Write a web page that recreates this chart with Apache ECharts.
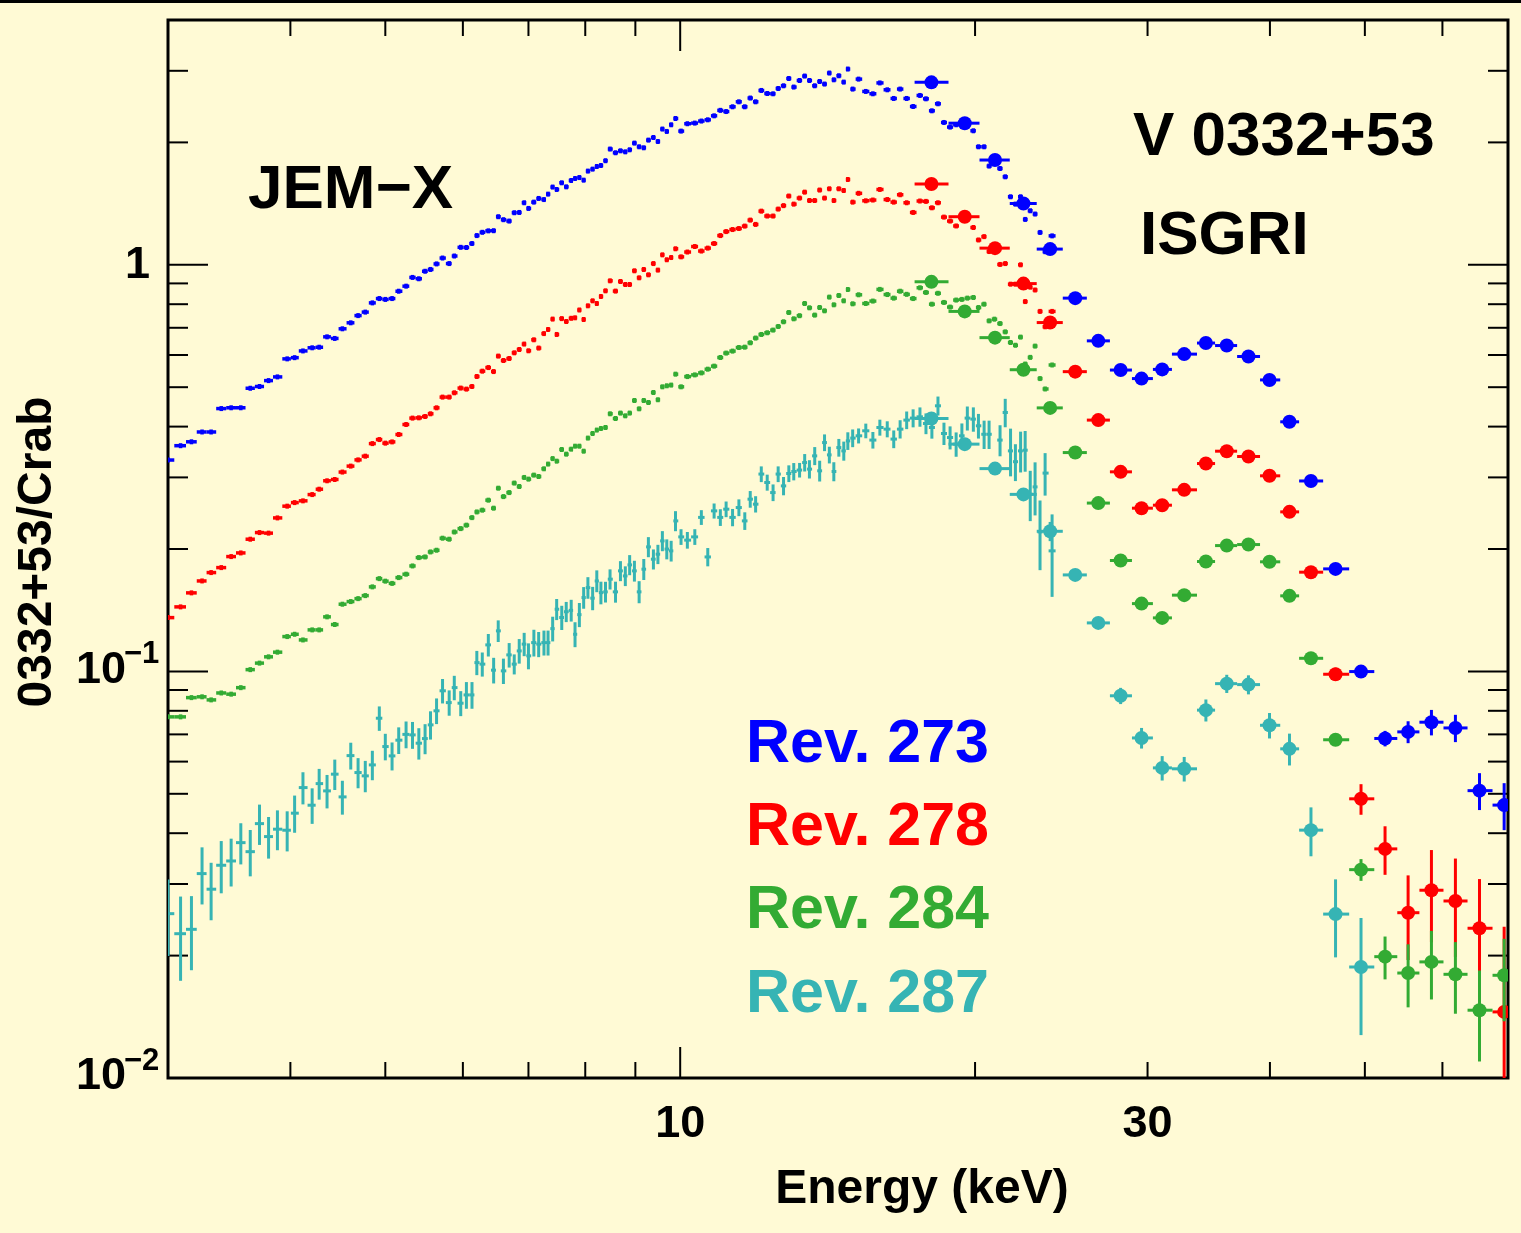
<!DOCTYPE html>
<html>
<head>
<meta charset="utf-8">
<script src="https://cdn.jsdelivr.net/npm/echarts@6/dist/echarts.min.js"></script>
<style>
  html, body { margin: 0; padding: 0; background: #fffad5; }
  #chart { width: 1521px; height: 1233px; }
</style>
</head>
<body>
<div id="chart"></div>
<script>
// V 0332+53 spectra divided by the Crab spectrum, four INTEGRAL revolutions.

// ---- axis ranges and ticks ----
const X_MIN = 3, X_MAX = 70;
const Y_MIN = 0.01, Y_MAX = 4;
const xMajorTickValues = [10];
const xMinorTickValues = [4, 5, 6, 7, 8, 9, 20, 30, 40, 50, 60];
const yMajorTickValues = [0.01, 0.1, 1];
const yMinorTickValues = [0.02, 0.03, 0.04, 0.05, 0.06, 0.07, 0.08, 0.09,
                          0.2, 0.3, 0.4, 0.5, 0.6, 0.7, 0.8, 0.9, 2, 3];
const xTickLabels = [{ value: 10, text: '10' }, { value: 30, text: '30' }];
const yTickLabels = [
  { value: 1, base: '1', exp: '' },
  { value: 0.1, base: '10', exp: '\u22121' },
  { value: 0.01, base: '10', exp: '\u22122' }
];

// ---- JEM-X channel energies (keV), shared by all revolutions ----
const jemxEnergy = [
  3.00, 3.09, 3.17, 3.25, 3.32, 3.40, 3.48, 3.56, 3.64, 3.72,
  3.80, 3.88, 3.97, 4.04, 4.12, 4.21, 4.28, 4.36, 4.44, 4.52,
  4.61, 4.69, 4.77, 4.85, 4.93, 5.00, 5.08, 5.16, 5.25, 5.33,
  5.41, 5.49, 5.56, 5.64, 5.72, 5.81, 5.88, 5.97, 6.05, 6.13,
  6.20, 6.28, 6.37, 6.45, 6.52, 6.60, 6.69, 6.77, 6.85, 6.93,
  7.00, 7.09, 7.17, 7.26, 7.33, 7.41, 7.48, 7.57, 7.65, 7.74,
  7.81, 7.89, 7.97, 8.05, 8.14, 8.22, 8.30, 8.39, 8.48, 8.59,
  8.69, 8.79, 8.88, 8.98, 9.08, 9.18, 9.28, 9.39, 9.49, 9.59,
  9.69, 9.79, 9.89, 10.02, 10.17, 10.35, 10.51, 10.67, 10.83, 10.99,
  11.14, 11.31, 11.48, 11.64, 11.79, 11.94, 12.10, 12.27, 12.44, 12.59,
  12.75, 12.91, 13.06, 13.24, 13.40, 13.55, 13.72, 13.88, 14.04, 14.20,
  14.35, 14.52, 14.69, 14.83, 15.00, 15.21, 15.47, 15.73, 15.99, 16.27,
  16.52, 16.77, 17.03, 17.29, 17.57, 17.82, 18.07, 18.33, 18.59, 18.86,
  19.13, 19.39, 19.64, 19.92, 20.16, 20.43, 20.67, 20.93, 21.21, 21.47,
  21.74, 21.99, 22.26, 22.50, 22.77, 23.03, 23.30, 23.58, 23.97
];

// JEM-X ratio to Crab, Rev. 273
const jemx273 = [
  0.331, 0.359, 0.367, 0.388, 0.388, 0.443, 0.445, 0.445, 0.497, 0.502,
  0.519, 0.530, 0.587, 0.591, 0.614, 0.625, 0.627, 0.665, 0.659, 0.696,
  0.720, 0.750, 0.765, 0.806, 0.826, 0.822, 0.826, 0.861, 0.886, 0.931,
  0.924, 0.964, 0.974, 1.005, 1.039, 1.007, 1.051, 1.104, 1.103, 1.128,
  1.180, 1.202, 1.212, 1.213, 1.313, 1.291, 1.281, 1.343, 1.345, 1.421,
  1.376, 1.426, 1.456, 1.447, 1.492, 1.553, 1.532, 1.591, 1.555, 1.612,
  1.630, 1.639, 1.615, 1.700, 1.719, 1.745, 1.755, 1.803, 1.926, 1.886,
  1.907, 1.896, 1.918, 1.992, 1.951, 1.940, 2.026, 2.056, 2.010, 2.157,
  2.128, 2.210, 2.290, 2.132, 2.223, 2.231, 2.257, 2.273, 2.325, 2.398,
  2.382, 2.447, 2.517, 2.447, 2.571, 2.517, 2.684, 2.638, 2.634, 2.714,
  2.756, 2.872, 2.736, 2.840, 2.912, 2.840, 2.756, 2.824, 2.783, 2.962,
  2.851, 2.917, 2.814, 3.030, 2.705, 2.862, 2.669, 2.634, 2.801, 2.694,
  2.565, 2.705, 2.565, 2.451, 2.609, 2.560, 2.392, 2.489, 2.239, 2.181,
  2.210, null, null, 2.136, 1.951, 1.951, 1.749, null, 1.725, 1.646,
  1.470, 1.410, 1.470, 1.293, 1.358, 1.333, 1.201, 1.077, 1.178
];

// JEM-X ratio to Crab, Rev. 278
const jemx278 = [
  0.1356, 0.1441, 0.1560, 0.1669, 0.1750, 0.1800, 0.1916, 0.1956, 0.2114, 0.2195,
  0.2188, 0.2385, 0.2549, 0.2601, 0.2627, 0.2722, 0.2806, 0.2943, 0.2965, 0.3092,
  0.3198, 0.3313, 0.3383, 0.3633, 0.3717, 0.3642, 0.3668, 0.3825, 0.4048, 0.4197,
  0.4204, 0.4236, 0.4301, 0.4449, 0.4727, 0.4727, 0.4844, 0.4975, 0.4946, 0.5020,
  0.5313, 0.5475, 0.5588, 0.5463, 0.5963, 0.5816, 0.5882, 0.6075, 0.6190, 0.6383,
  0.6145, 0.6540, 0.6240, 0.6774, 0.6933, 0.7353, 0.6740, 0.7373, 0.7253, 0.7386,
  0.7407, 0.7742, 0.7336, 0.7928, 0.8155, 0.8032, 0.8357, 0.8630, 0.9133, 0.8616,
  0.9097, 0.8944, 0.8944, 0.9666, 0.929, 0.9737, 0.9449, 1.007, 0.9704, 1.058,
  1.029, 1.042, 1.095, 1.046, 1.075, 1.109, 1.081, 1.099, 1.128, 1.180,
  1.207, 1.221, 1.228, 1.245, 1.288, 1.257, 1.355, 1.318, 1.318, 1.371,
  1.398, 1.476, 1.410, 1.459, 1.509, 1.439, 1.439, 1.527, 1.459, 1.538,
  1.439, 1.538, 1.523, 1.621, 1.426, 1.499, 1.437, 1.443, 1.532, 1.447,
  1.426, 1.487, 1.421, 1.345, 1.435, 1.432, 1.381, 1.421, 1.310, 1.281,
  1.246, null, null, 1.235, 1.151, 1.173, 1.078, null, 1.002, 1.007,
  0.896, 0.896, 1.000, 0.812, 0.881, 0.867, 0.768, 0.704, 0.768
];

// JEM-X ratio to Crab, Rev. 284
const jemx284 = [
  0.0773, 0.0773, 0.0862, 0.0866, 0.0851, 0.0885, 0.0879, 0.0912, 0.1010, 0.1048,
  0.1086, 0.1115, 0.1218, 0.1234, 0.1195, 0.1265, 0.1265, 0.1362, 0.1304, 0.1463,
  0.1485, 0.1510, 0.1536, 0.1614, 0.1691, 0.1667, 0.1646, 0.1701, 0.1734, 0.1817,
  0.1905, 0.1912, 0.1967, 0.1986, 0.2126, 0.2114, 0.2202, 0.2245, 0.2289, 0.2389,
  0.2467, 0.2492, 0.2637, 0.2520, 0.2822, 0.2691, 0.2753, 0.2905, 0.2849, 0.2999,
  0.2971, 0.3039, 0.3015, 0.3150, 0.3235, 0.3337, 0.3289, 0.3513, 0.3422, 0.3520,
  0.3580, 0.3580, 0.3480, 0.3748, 0.3847, 0.3922, 0.3957, 0.3980, 0.4301, 0.4188,
  0.4318, 0.4252, 0.4318, 0.4637, 0.4424, 0.4637, 0.4585, 0.4852, 0.4657, 0.5011,
  0.5040, 0.5060, 0.5383, 0.5011, 0.5310, 0.5361, 0.5422, 0.5537, 0.5633, 0.5915,
  0.6065, 0.6134, 0.6260, 0.6272, 0.6430, 0.6604, 0.6740, 0.6805, 0.6909, 0.7052,
  0.7242, 0.7633, 0.7365, 0.7496, 0.8032, 0.7838, 0.7521, 0.7852, 0.7706, 0.8328,
  0.7973, 0.8404, 0.8155, 0.8694, 0.8018, 0.8438, 0.8032, 0.8143, 0.8700, 0.845,
  0.828, 0.861, 0.846, 0.826, 0.878, 0.855, 0.800, 0.851, 0.808, 0.787,
  0.819, 0.822, 0.828, 0.831, 0.785, 0.800, 0.728, 0.735, 0.717, 0.684,
  0.644, 0.634, 0.664, 0.570, 0.592, 0.631, 0.525, 0.495, 0.567
];

// JEM-X ratio to Crab, Rev. 287, with 1-sigma errors
const jemx287 = [
  0.02536, 0.02264, 0.02321, 0.03182, 0.02913, 0.03336, 0.03418, 0.03792, 0.03603, 0.04223,
  0.03924, 0.04092, 0.04068, 0.04480, 0.05179, 0.04687, 0.05297, 0.05083, 0.05588, 0.04913,
  0.06207, 0.05639, 0.05534, 0.05889, 0.07671, 0.06533, 0.06197, 0.06774, 0.0700, 0.0698,
  0.06659, 0.06836, 0.07387, 0.0800, 0.0896, 0.0838, 0.09123, 0.08352, 0.08753, 0.08753,
  0.1051, 0.1042, 0.1162, 0.1007, 0.1258, 0.1003, 0.1098, 0.1042, 0.1123, 0.1167,
  0.1092, 0.1177, 0.1167, 0.1177, 0.1177, 0.1274, 0.1422, 0.1357, 0.1402, 0.1413,
  0.1234, 0.1379, 0.1519, 0.1607, 0.1514, 0.1669, 0.1562, 0.1569, 0.1686, 0.1569,
  0.1767, 0.1717, 0.1828, 0.1767, 0.1569, 0.1784, 0.2024, 0.1888, 0.1942, 0.2094,
  0.1999, 0.1979, 0.2345, 0.2142, 0.2103, 0.2142, 0.2392, 0.1912, 0.2482, 0.2392,
  0.2506, 0.2392, 0.2529, 0.2345, 0.2652, 0.2578, 0.3057, 0.2915, 0.2753, 0.3057,
  0.2859, 0.3067, 0.3102, 0.3127, 0.3263, 0.3144, 0.3389, 0.3114, 0.3654, 0.3408,
  0.3102, 0.3552, 0.3486, 0.3689, 0.3748, 0.3797, 0.3906, 0.3706, 0.3980, 0.3943,
  0.3727, 0.3943, 0.4150, 0.4197, 0.4228, 0.4071, 0.3980, 0.4500, 0.3847, 0.3760,
  0.3621, 0.3797, 0.4197, 0.4173, 0.4018, 0.3830, 0.3830, null, 0.3706, 0.4333,
  0.3486, 0.3279, 0.3486, 0.3500, 0.2728, 0.2843, 0.2203, 0.3074, 0.1979
];
const jemx287Err = [
  0.0054, 0.0053, 0.0048, 0.0051, 0.0047, 0.0049, 0.0046, 0.0044, 0.0047, 0.0048,
  0.0046, 0.0046, 0.0046, 0.0047, 0.0047, 0.0047, 0.0046, 0.0048, 0.0048, 0.0047,
  0.0047, 0.0048, 0.0049, 0.0049, 0.0053, 0.0049, 0.0049, 0.0051, 0.0053, 0.0053,
  0.0059, 0.0058, 0.0059, 0.0058, 0.0062, 0.0060, 0.0063, 0.0059, 0.0066, 0.0066,
  0.0072, 0.0071, 0.0074, 0.0073, 0.0077, 0.0072, 0.0076, 0.0059, 0.0078, 0.0077,
  0.0080, 0.0089, 0.0083, 0.0083, 0.0083, 0.0089, 0.0085, 0.0093, 0.0080, 0.0087,
  0.0087, 0.0094, 0.0093, 0.0098, 0.0100, 0.0103, 0.0100, 0.0092, 0.0096, 0.0093,
  0.0100, 0.0096, 0.0104, 0.0104, 0.0098, 0.0106, 0.0115, 0.0107, 0.0106, 0.0119,
  0.0113, 0.0116, 0.0133, 0.0095, 0.0099, 0.0095, 0.0100, 0.0099, 0.0106, 0.0113,
  0.0111, 0.0117, 0.0120, 0.0117, 0.0125, 0.0119, 0.0136, 0.0132, 0.0130, 0.0136,
  0.0148, 0.0145, 0.0152, 0.0129, 0.0161, 0.0163, 0.0173, 0.0183, 0.0173, 0.0161,
  0.0167, 0.0178, 0.0188, 0.0184, 0.0188, 0.0161, 0.0162, 0.0174, 0.0180, 0.0179,
  0.0187, 0.0204, 0.0207, 0.0214, 0.0231, 0.0239, 0.0244, 0.0242, 0.0243, 0.0245,
  0.0249, 0.0275, 0.0285, 0.0287, 0.0280, 0.0307, 0.0307, null, 0.0325, 0.0348,
  0.0468, 0.0341, 0.0401, 0.0402, 0.0386, 0.0424, 0.0429, 0.0368, 0.0454
];

// ---- ISGRI energy bins (keV) ----
const isgriEdges = [17.35, 18.79, 20.21, 21.70, 23.12, 24.58, 26.01, 27.46, 28.92, 30.38,
                    31.77, 33.70, 35.16, 37.03, 39.08, 40.98, 42.84, 45.33, 48.19, 51.12,
                    53.96, 56.84, 60.15, 63.65, 67.50, 71.43];
const isgriEnergy = [18.05, 19.52, 20.96, 22.41, 23.86, 25.31, 26.72, 28.16, 29.58, 31.05,
                     32.70, 34.41, 36.14, 38.03, 39.96, 41.88, 44.05, 46.67, 49.55, 52.43,
                     55.35, 58.47, 61.86, 65.46, 69.37];

const isgri273 = [2.81, 2.23, 1.81, 1.415, 1.093, 0.828, 0.650, 0.551, 0.525, 0.553,
                  0.603, 0.642, 0.633, 0.595, 0.521, 0.411, 0.294, 0.1787, 0.0999, 0.0684,
                  0.0710, 0.0750, 0.0726, 0.0509, 0.0469];
const isgri273Err = [0.012, 0.009, 0.007, 0.006, 0.005, 0.004, 0.003, 0.003, 0.003, 0.003,
                     0.003, 0.003, 0.003, 0.003, 0.003, 0.003, 0.002, 0.0015, 0.0012, 0.003,
                     0.0044, 0.0054, 0.0056, 0.0053, 0.0062];

const isgri278 = [1.58, 1.313, 1.099, 0.899, 0.721, 0.546, 0.415, 0.3096, 0.252, 0.2563,
                  0.2796, 0.3245, 0.348, 0.3377, 0.3027, 0.2468, 0.1754, 0.0984, 0.0486, 0.0366,
                  0.0255, 0.02896, 0.02725, 0.02335, 0.01454];
const isgri278Err = [0.008, 0.006, 0.005, 0.004, 0.004, 0.003, 0.003, 0.003, 0.003, 0.003,
                     0.003, 0.003, 0.003, 0.003, 0.003, 0.003, 0.002, 0.0037, 0.0042, 0.005,
                     0.006, 0.0074, 0.0074, 0.0075, 0.009];

const isgri284 = [0.908, 0.768, 0.662, 0.552, 0.4447, 0.3453, 0.2594, 0.1874, 0.1468, 0.1354,
                  0.154, 0.1863, 0.2039, 0.2051, 0.186, 0.1534, 0.1077, 0.0679, 0.03254, 0.01988,
                  0.01812, 0.0193, 0.01799, 0.01468, 0.01789];
const isgri284Err = [0.005, 0.004, 0.003, 0.003, 0.003, 0.002, 0.002, 0.002, 0.002, 0.002,
                     0.002, 0.002, 0.002, 0.002, 0.002, 0.002, 0.0015, 0.0012, 0.002, 0.0024,
                     0.0032, 0.0037, 0.0036, 0.0037, 0.0041];

const isgri287 = [0.4187, 0.3622, 0.3153, 0.2725, 0.2211, 0.1727, 0.1316, 0.0871, 0.0686, 0.0579,
                  0.0576, 0.0803, 0.0933, 0.0928, 0.0737, 0.0645, 0.0407, 0.0253, 0.01875, null,
                  null, null, null, null, null];
const isgri287Err = [0.005, 0.004, 0.004, 0.004, 0.012, 0.003, 0.003, 0.004, 0.004, 0.004,
                     0.004, 0.005, 0.0048, 0.005, 0.0053, 0.0058, 0.0056, 0.0055, 0.006, null,
                     null, null, null, null, null];

const revLabels = ['Rev. 273', 'Rev. 278', 'Rev. 284', 'Rev. 287'];
const revColors = ['#0000ff', '#ff0000', '#33ab33', '#36b4b4'];

// ---- build rows: [energy, ratio, error, binLow, binHigh] ----
const jemxLo = [], jemxHi = [];
jemxEnergy.forEach((e, i) => {
  const n = jemxEnergy.length;
  const prev = i > 0 ? jemxEnergy[i - 1] : e * e / jemxEnergy[i + 1];
  const next = i < n - 1 ? jemxEnergy[i + 1] : e * e / jemxEnergy[i - 1];
  jemxLo.push(Math.sqrt(prev * e));
  jemxHi.push(Math.sqrt(e * next));
});

function jemxRows(values, errs) {
  const rows = [];
  values.forEach((v, i) => {
    if (v == null) return;
    rows.push([jemxEnergy[i], v, errs ? errs[i] : 0, jemxLo[i], jemxHi[i]]);
  });
  return rows;
}
function isgriRows(values, errs) {
  const rows = [];
  values.forEach((v, i) => {
    if (v == null) return;
    rows.push([isgriEnergy[i], v, errs[i], isgriEdges[i], isgriEdges[i + 1]]);
  });
  return rows;
}

function errorBarRenderer(color, lineWidth, tickHalf, dotRadius) {
  return function (params, api) {
    const e = api.value(0), v = api.value(1), err = api.value(2);
    const lo = api.value(3), hi = api.value(4);
    const c = api.coord([e, v]);
    const pl = api.coord([lo, v]);
    const ph = api.coord([hi, v]);
    let yTop, yBot;
    if (err > 0) {
      yTop = api.coord([e, v + err])[1];
      yBot = api.coord([e, Math.max(v - err, 1e-4)])[1];
    } else {
      yTop = c[1] - tickHalf;
      yBot = c[1] + tickHalf;
    }
    const style = { stroke: color, lineWidth: lineWidth };
    const children = [
      { type: 'line', shape: { x1: pl[0], y1: c[1], x2: ph[0], y2: c[1] }, style: style },
      { type: 'line', shape: { x1: c[0], y1: yTop, x2: c[0], y2: yBot }, style: style }
    ];
    if (dotRadius) {
      children.push({ type: 'circle', shape: { cx: c[0], cy: c[1], r: dotRadius }, style: { fill: color } });
    }
    return { type: 'group', children: children };
  };
}

function dataSeries(rows, color, lineWidth, tickHalf, dotRadius, z) {
  return {
    type: 'custom',
    clip: true,
    z: z,
    data: rows,
    encode: { x: 0, y: 1 },
    renderItem: errorBarRenderer(color, lineWidth, tickHalf, dotRadius)
  };
}

// ---- frame ticks and tick labels, placed through the axes ----
const FONT = '"Liberation Sans", Arial, Helvetica, sans-serif';

function xTickSeries(values, len) {
  return {
    type: 'custom', z: 1, silent: true,
    data: values.map(v => [v, Y_MIN]),
    encode: { x: 0, y: 1 },
    renderItem: function (params, api) {
      const v = api.value(0);
      const b = api.coord([v, Y_MIN]);
      const t = api.coord([v, Y_MAX]);
      const st = { stroke: '#000', lineWidth: 2 };
      return { type: 'group', children: [
        { type: 'line', shape: { x1: b[0], y1: b[1], x2: b[0], y2: b[1] - len }, style: st },
        { type: 'line', shape: { x1: t[0], y1: t[1], x2: t[0], y2: t[1] + len }, style: st }
      ] };
    }
  };
}
function yTickSeries(values, len) {
  return {
    type: 'custom', z: 1, silent: true,
    data: values.map(v => [X_MIN, v]),
    encode: { x: 0, y: 1 },
    renderItem: function (params, api) {
      const v = api.value(1);
      const l = api.coord([X_MIN, v]);
      const r = api.coord([X_MAX, v]);
      const st = { stroke: '#000', lineWidth: 2 };
      return { type: 'group', children: [
        { type: 'line', shape: { x1: l[0], y1: l[1], x2: l[0] + len, y2: l[1] }, style: st },
        { type: 'line', shape: { x1: r[0], y1: r[1], x2: r[0] - len, y2: r[1] }, style: st }
      ] };
    }
  };
}

const xLabelSeries = {
  type: 'custom', z: 1, silent: true,
  data: xTickLabels.map(t => [t.value, Y_MIN]),
  encode: { x: 0, y: 1 },
  renderItem: function (params, api) {
    const p = api.coord([api.value(0), Y_MIN]);
    return {
      type: 'text',
      style: { x: p[0], y: p[1] + 47, text: xTickLabels[params.dataIndex].text,
               font: 'bold 45px ' + FONT, fill: '#000', align: 'center', verticalAlign: 'middle' }
    };
  }
};

const yLabelSeries = {
  type: 'custom', z: 1, silent: true,
  data: yTickLabels.map(t => [X_MIN, t.value]),
  encode: { x: 0, y: 1 },
  renderItem: function (params, api) {
    const p = api.coord([X_MIN, api.value(1)]);
    const lab = yTickLabels[params.dataIndex];
    if (!lab.exp) {
      return {
        type: 'text',
        style: { x: p[0] - 18, y: p[1] + 1, text: lab.base, font: 'bold 45px ' + FONT,
                 fill: '#000', align: 'right', verticalAlign: 'middle' }
      };
    }
    return { type: 'group', children: [
      { type: 'text', style: { x: p[0] - 42, y: p[1] - 1, text: lab.base, font: 'bold 45px ' + FONT,
                               fill: '#000', align: 'right', verticalAlign: 'middle' } },
      { type: 'text', style: { x: p[0] - 44, y: p[1] - 17, text: lab.exp, font: 'bold 31px ' + FONT,
                               fill: '#000', align: 'left', verticalAlign: 'middle' } }
    ] };
  }
};

const series = [
  xTickSeries(xMajorTickValues, 31),
  xTickSeries(xMinorTickValues, 16),
  yTickSeries(yMajorTickValues, 40),
  yTickSeries(yMinorTickValues, 20),
  xLabelSeries,
  yLabelSeries,
  dataSeries(jemxRows(jemx273), revColors[0], 3.5, 2.5, 0, 3),
  dataSeries(jemxRows(jemx278), revColors[1], 3.5, 2.5, 0, 3),
  dataSeries(jemxRows(jemx284), revColors[2], 3.5, 2.5, 0, 3),
  dataSeries(jemxRows(jemx287, jemx287Err), revColors[3], 3, 2.5, 0, 3),
  dataSeries(isgriRows(isgri273, isgri273Err), revColors[0], 3, 0, 7, 4),
  dataSeries(isgriRows(isgri278, isgri278Err), revColors[1], 3, 0, 7, 4),
  dataSeries(isgriRows(isgri284, isgri284Err), revColors[2], 3, 0, 7, 4),
  dataSeries(isgriRows(isgri287, isgri287Err), revColors[3], 3, 0, 7, 4)
];

const textStyle = (size, color) => ({ font: 'bold ' + size + 'px ' + FONT, fill: color });

const graphic = [
  { type: 'rect', left: 0, top: 0, shape: { width: 1521, height: 3 }, style: { fill: '#000' }, z: 10 },
  { type: 'text', left: 248, top: 160,
    style: Object.assign({ text: 'JEM\u2212X' }, textStyle(62, '#000')) },
  { type: 'text', left: 1133, top: 107,
    style: Object.assign({ text: 'V 0332+53' }, textStyle(62, '#000')) },
  { type: 'text', left: 1140, top: 206,
    style: Object.assign({ text: 'ISGRI' }, textStyle(62, '#000')) },
  { type: 'text', x: 922, y: 1190,
    style: Object.assign({ text: 'Energy (keV)', align: 'center', verticalAlign: 'middle' }, textStyle(48, '#000')) },
  { type: 'text', x: 38, y: 552, rotation: Math.PI / 2,
    style: Object.assign({ text: '0332+53/Crab', align: 'center', verticalAlign: 'middle' }, textStyle(48, '#000')) }
];
const legendY = [745, 828, 911, 995];
revLabels.forEach((t, i) => {
  graphic.push({ type: 'text', x: 746, y: legendY[i],
    style: Object.assign({ text: t, align: 'left', verticalAlign: 'middle' }, textStyle(61, revColors[i])) });
});

const chart = echarts.init(document.getElementById('chart'), null, { renderer: 'canvas' });
chart.setOption({
  animation: false,
  backgroundColor: '#fffad5',
  grid: { left: 168, top: 20, right: 13, bottom: 155, show: true,
          borderColor: '#000', borderWidth: 3, backgroundColor: 'transparent' },
  xAxis: { type: 'log', logBase: 10, min: X_MIN, max: X_MAX,
           axisLine: { show: false }, axisTick: { show: false },
           axisLabel: { show: false }, splitLine: { show: false } },
  yAxis: { type: 'log', logBase: 10, min: Y_MIN, max: Y_MAX,
           axisLine: { show: false }, axisTick: { show: false },
           axisLabel: { show: false }, splitLine: { show: false } },
  graphic: graphic,
  series: series
});
</script>
</body>
</html>
